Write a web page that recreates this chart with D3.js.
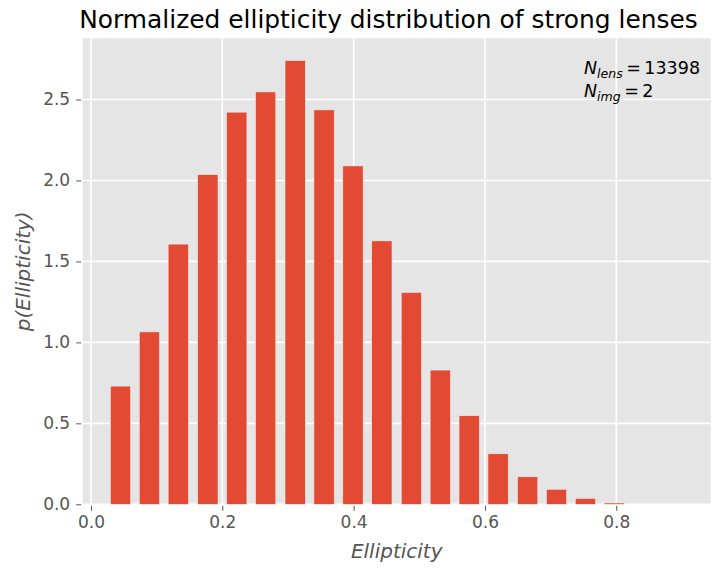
<!DOCTYPE html>
<html>
<head>
<meta charset="utf-8">
<script src="https://cdn.jsdelivr.net/npm/d3@7"></script>
<style>
  html, body { margin: 0; padding: 0; background: #ffffff; }
  svg { display: block; }
  text { font-family: "DejaVu Sans", sans-serif; }
</style>
</head>
<body>
<div id="chart"></div>
<script>
// ---- data ----
const binCenters = [0.045, 0.089, 0.133, 0.178, 0.222, 0.266, 0.311, 0.355, 0.399,
                    0.443, 0.488, 0.532, 0.576, 0.620, 0.665, 0.709, 0.753, 0.797];
const density = [0.730, 1.065, 1.607, 2.037, 2.422, 2.547, 2.741, 2.436, 2.090,
                 1.627, 1.309, 0.829, 0.547, 0.312, 0.170, 0.093, 0.037, 0.008];
const binWidth = 0.04426;
const barFraction = 0.7;
const xTicks = [0.0, 0.2, 0.4, 0.6, 0.8];
const yTicks = [0.0, 0.5, 1.0, 1.5, 2.0, 2.5];
const titleText = "Normalized ellipticity distribution of strong lenses";
const nLens = 13398;
const nImg = 2;

// ---- layout ----
const W = 712, H = 570;
const plot = { left: 82.7, right: 710.7, top: 38.3, bottom: 504.3 };

const svg = d3.select("#chart").append("svg")
  .attr("width", W).attr("height", H);

const x = d3.scaleLinear().domain([-0.0126, 0.9438]).range([plot.left, plot.right]);
const y = d3.scaleLinear().domain([0, 2.878]).range([plot.bottom, plot.top]);

// background
svg.append("rect")
  .attr("x", plot.left).attr("y", plot.top)
  .attr("width", plot.right - plot.left).attr("height", plot.bottom - plot.top)
  .attr("fill", "#E5E5E5");

// grid
const grid = svg.append("g");
grid.selectAll("line.gx").data(xTicks).join("line")
  .attr("x1", d => x(d)).attr("x2", d => x(d))
  .attr("y1", plot.top).attr("y2", plot.bottom)
  .attr("stroke", "#ffffff").attr("stroke-width", 1.6);
grid.selectAll("line.gy").data(yTicks).join("line")
  .attr("y1", d => y(d)).attr("y2", d => y(d))
  .attr("x1", plot.left).attr("x2", plot.right)
  .attr("stroke", "#ffffff").attr("stroke-width", 1.6);

// bars
svg.append("g").selectAll("rect").data(binCenters).join("rect")
  .attr("x", (d) => x(d - binWidth * barFraction / 2))
  .attr("width", (d) => x(d + binWidth * barFraction / 2) - x(d - binWidth * barFraction / 2))
  .attr("y", (d, i) => y(density[i]))
  .attr("height", (d, i) => y(0) - y(density[i]))
  .attr("fill", "#E24A33")
  .attr("stroke", "#EEEEEE")
  .attr("stroke-width", 0.6);

// axes
const tickColor = "#555555";
const xAxis = d3.axisBottom(x).tickValues(xTicks).tickFormat(d3.format(".1f"))
  .tickSize(5).tickPadding(5);
const gx = svg.append("g").attr("transform", `translate(0,${plot.bottom + 1.5})`).call(xAxis);
gx.select(".domain").remove();
gx.selectAll("line").attr("stroke", tickColor).attr("stroke-width", 1);
gx.selectAll("text").attr("fill", tickColor).style("font-size", "17px")
  .style("font-family", "DejaVu Sans, sans-serif");

const yAxis = d3.axisLeft(y).tickValues(yTicks).tickFormat(d3.format(".1f"))
  .tickSize(5).tickPadding(6);
const gy = svg.append("g").attr("transform", `translate(${plot.left - 1.5},0)`).call(yAxis);
gy.select(".domain").remove();
gy.selectAll("line").attr("stroke", tickColor).attr("stroke-width", 1);
gy.selectAll("text").attr("fill", tickColor).style("font-size", "17px")
  .style("font-family", "DejaVu Sans, sans-serif");

// title
svg.append("text")
  .attr("x", 388.5).attr("y", 28)
  .attr("text-anchor", "middle")
  .style("font-size", "24.9px").attr("fill", "#000000")
  .text(titleText);

// axis labels
svg.append("text")
  .attr("x", (plot.left + plot.right) / 2).attr("y", 558)
  .attr("text-anchor", "middle")
  .style("font-size", "20px").style("font-style", "italic")
  .attr("fill", "#555555")
  .text("Ellipticity");

svg.append("text")
  .attr("transform", `translate(30,${(plot.top + plot.bottom) / 2}) rotate(-90)`)
  .attr("text-anchor", "middle")
  .style("font-size", "20px").style("font-style", "italic")
  .attr("fill", "#555555")
  .text("p(Ellipticity)");

// annotation
function mathLine(yPos, sub, val) {
  const t = svg.append("text").attr("x", 584).attr("y", yPos)
    .style("font-size", "17.5px").attr("fill", "#000000");
  t.append("tspan").style("font-style", "italic").text("N");
  t.append("tspan").style("font-style", "italic").style("font-size", "12.5px")
    .attr("dy", 4).text(sub);
  t.append("tspan").attr("dy", -4).text("\u2009=\u2009" + val);
}
mathLine(73.5, "lens", nLens);
mathLine(96.5, "img", nImg);
</script>
</body>
</html>
